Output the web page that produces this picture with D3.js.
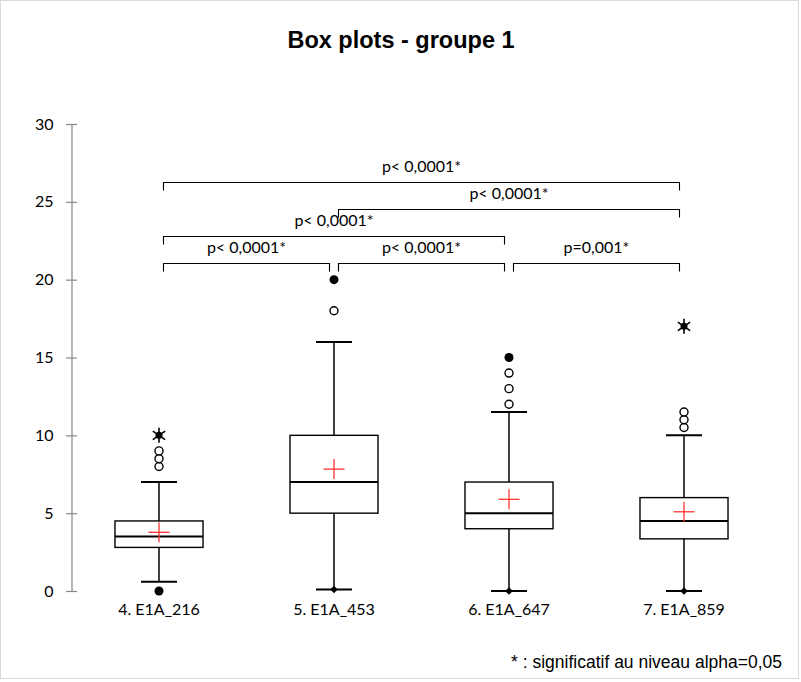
<!DOCTYPE html>
<html>
<head>
<meta charset="utf-8">
<script src="https://cdn.jsdelivr.net/npm/d3@7"></script>
<style>
  html, body { margin: 0; padding: 0; background: #fff; }
  svg { display: block; }
</style>
</head>
<body>
<svg id="chart" width="801" height="682"></svg>
<script>
// ---------------- DATA ----------------
const categories = ["4. E1A_216", "5. E1A_453", "6. E1A_647", "7. E1A_859"];
const q1Values      = [2.8, 5, 4, 3.35];
const medianValues  = [3.5, 7, 5, 4.5];
const q3Values      = [4.5, 10, 7, 6];
const lowerWhisker  = [0.6, 0.1, 0, 0];
const upperWhisker  = [7, 16, 11.5, 10];
const meanValues    = [3.77, 7.83, 5.89, 5.09];
const minValues     = [0, 0.1, 0, 0];
const minMarkers    = ["dot", "diamond", "diamond", "diamond"];
const maxValues     = [10, 20, 15, 17];
const maxMarkers    = ["star", "dot", "dot", "star"];
const outlierValues = [[8, 8.5, 9], [18], [12, 13, 14], [10.5, 11, 11.5]];
const yTicks = [0, 5, 10, 15, 20, 25, 30];

// pairwise comparisons: [groupA, groupB, label, bracket height (data units)]
const compFrom   = [0, 1, 0, 0, 1, 2];
const compTo     = [3, 3, 2, 1, 2, 3];
const compLabels = ["p< 0,0001*", "p< 0,0001*", "p< 0,0001*", "p< 0,0001*", "p< 0,0001*", "p=0,001*"];
const compLevels = [26.3, 24.55, 22.8, 21.1, 21.1, 21.1];

const titleText = "Box plots - groupe 1";
const footnoteText = "* : significatif au niveau alpha=0,05";

// ---------------- CHART ----------------
const svg = d3.select("#chart");
const labelFont = "Lato, 'Open Sans', sans-serif";
const arialFont = "'Liberation Sans', Arial, sans-serif";

// frame
svg.append("rect")
  .attr("x", 0.5).attr("y", 0.5).attr("width", 798).attr("height", 678)
  .attr("fill", "#fff").attr("stroke", "#d9d9d9");

const x = d3.scaleBand().domain(categories).range([71.5, 771.5]);
const y = d3.scaleLinear().domain([0, 30]).range([591, 124]);
const cx = c => x(c) + x.bandwidth() / 2;
const boxW = x.bandwidth() * 0.503;
const capW = 36;

// title
svg.append("text")
  .attr("x", 401).attr("y", 48)
  .attr("text-anchor", "middle")
  .attr("font-family", arialFont).attr("font-weight", "bold").attr("font-size", 23.5)
  .attr("fill", "#000").text(titleText);

// y axis
const yAxis = d3.axisLeft(y).tickValues(yTicks).tickSize(0).tickPadding(0);
const gy = svg.append("g").attr("transform", "translate(71.5,0)").call(yAxis);
gy.select(".domain").attr("stroke", "#868686").attr("stroke-width", 1.2);
gy.selectAll(".tick line").remove();
gy.selectAll(".tick").append("line")
  .attr("x1", -5.5).attr("x2", 5.5)
  .attr("stroke", "#868686").attr("stroke-width", 1.2);
gy.selectAll(".tick text")
  .attr("x", -18)
  .attr("font-family", labelFont).attr("font-size", 16).attr("fill", "#000");

// x axis labels (no axis line)
const xAxis = d3.axisBottom(x).tickSize(0).tickPadding(0);
const gx = svg.append("g").attr("transform", "translate(0,604)").call(xAxis);
gx.select(".domain").remove();
gx.selectAll(".tick text")
  .attr("font-family", labelFont).attr("font-size", 16).attr("fill", "#000");

// boxes
const boxes = svg.append("g");
categories.forEach((c, i) => {
  const xc = cx(c);
  const g = boxes.append("g");
  // whiskers
  g.append("line").attr("x1", xc).attr("x2", xc)
    .attr("y1", y(q3Values[i])).attr("y2", y(upperWhisker[i]))
    .attr("stroke", "#000").attr("stroke-width", 1.5);
  g.append("line").attr("x1", xc).attr("x2", xc)
    .attr("y1", y(q1Values[i])).attr("y2", y(lowerWhisker[i]))
    .attr("stroke", "#000").attr("stroke-width", 1.5);
  [upperWhisker[i], lowerWhisker[i]].forEach(v => {
    g.append("line").attr("x1", xc - capW / 2).attr("x2", xc + capW / 2)
      .attr("y1", y(v)).attr("y2", y(v))
      .attr("stroke", "#000").attr("stroke-width", 2);
  });
  // box
  g.append("rect")
    .attr("x", xc - boxW / 2).attr("width", boxW)
    .attr("y", y(q3Values[i])).attr("height", y(q1Values[i]) - y(q3Values[i]))
    .attr("fill", "none").attr("stroke", "#000").attr("stroke-width", 1.4);
  // median
  g.append("line").attr("x1", xc - boxW / 2).attr("x2", xc + boxW / 2)
    .attr("y1", y(medianValues[i])).attr("y2", y(medianValues[i]))
    .attr("stroke", "#000").attr("stroke-width", 2);
  // mean cross
  const my = y(meanValues[i]);
  g.append("line").attr("x1", xc - 10.5).attr("x2", xc + 10.5).attr("y1", my).attr("y2", my)
    .attr("stroke", "#ff3333").attr("stroke-width", 1.3);
  g.append("line").attr("x1", xc).attr("x2", xc).attr("y1", my - 10).attr("y2", my + 10)
    .attr("stroke", "#ff3333").attr("stroke-width", 1.3);
  // outliers
  outlierValues[i].forEach(v => {
    g.append("circle").attr("cx", xc).attr("cy", y(v)).attr("r", 4)
      .attr("fill", "#fff").attr("stroke", "#000").attr("stroke-width", 1.4);
  });
  // min/max markers
  const drawMarker = (type, v) => {
    const py = y(v);
    if (type === "dot") {
      g.append("circle").attr("cx", xc).attr("cy", py).attr("r", 4.5).attr("fill", "#000");
    } else if (type === "diamond") {
      g.append("path")
        .attr("d", `M${xc},${py - 3.8}L${xc + 3.8},${py}L${xc},${py + 3.8}L${xc - 3.8},${py}Z`)
        .attr("fill", "#000");
    } else if (type === "star") {
      [90, 35, 145].forEach(a => {
        const r = a * Math.PI / 180, L = 7.5;
        g.append("line")
          .attr("x1", xc - L * Math.cos(r)).attr("y1", py - L * Math.sin(r))
          .attr("x2", xc + L * Math.cos(r)).attr("y2", py + L * Math.sin(r))
          .attr("stroke", "#000").attr("stroke-width", 1.6);
      });
      g.append("circle").attr("cx", xc).attr("cy", py).attr("r", 3.5).attr("fill", "#000");
    }
  };
  drawMarker(minMarkers[i], minValues[i]);
  drawMarker(maxMarkers[i], maxValues[i]);
});

// comparison brackets
const br = svg.append("g");
compFrom.forEach((a, k) => {
  const x1 = cx(categories[a]) + 4.5;
  const x2 = cx(categories[compTo[k]]) - 4.5;
  const ly = Math.round(y(compLevels[k])) + 0.5;
  br.append("path")
    .attr("d", `M${x1},${ly + 8}V${ly}H${x2}V${ly + 8}`)
    .attr("fill", "none").attr("stroke", "#000").attr("stroke-width", 1.1);
  br.append("text")
    .attr("x", (x1 + x2) / 2).attr("y", ly - 11)
    .attr("text-anchor", "middle")
    .attr("font-family", labelFont).attr("font-size", 16).attr("fill", "#000")
    .text(compLabels[k]);
});

// footnote
svg.append("text")
  .attr("x", 782).attr("y", 668)
  .attr("text-anchor", "end")
  .attr("font-family", arialFont).attr("font-size", 17.5).attr("fill", "#000")
  .text(footnoteText);
</script>
</body>
</html>
